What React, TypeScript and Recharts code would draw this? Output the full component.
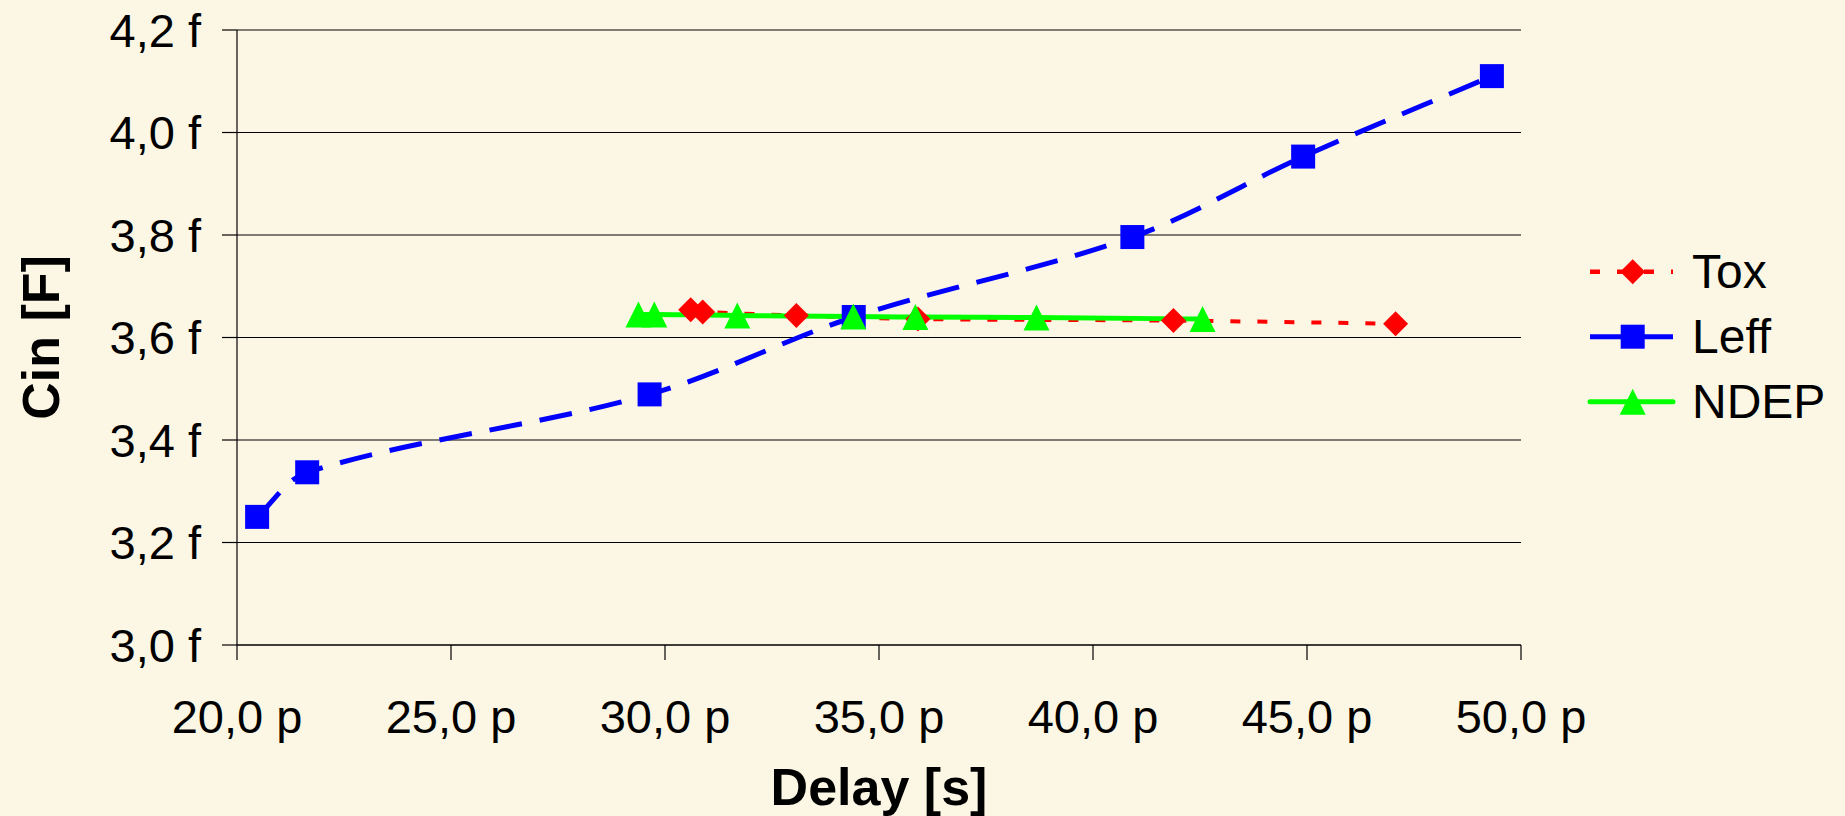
import React from 'react';
import { LineChart, Line, XAxis, YAxis, CartesianGrid, Legend, Label } from 'recharts';

// ---- data ----
const xTicks = [20, 25, 30, 35, 40, 45, 50];
const yTicks = [3.0, 3.2, 3.4, 3.6, 3.8, 4.0, 4.2];

const toxDelay = [30.6, 30.88, 33.07, 35.91, 41.88, 47.07];
const toxCin = [3.654, 3.65, 3.643, 3.636, 3.633, 3.627];

const leffDelay = [20.47, 21.64, 29.64, 34.41, 40.92, 44.91, 49.32];
const leffCin = [3.25, 3.337, 3.489, 3.64, 3.796, 3.953, 4.11];

const ndepDelay = [29.38, 29.75, 31.69, 34.4, 35.85, 38.68, 42.56];
const ndepCin = [3.645, 3.645, 3.643, 3.641, 3.64, 3.639, 3.636];

const seriesNames = ['Tox', 'Leff', 'NDEP'];
const seriesColors = ['#FF0000', '#0000FF', '#00FF00'];
const seriesMarkers = ['diamond', 'square', 'triangle'];

const toxData = toxDelay.map((x, i) => ({ x, y: toxCin[i] }));
const leffData = leffDelay.map((x, i) => ({ x, y: leffCin[i] }));
const ndepData = ndepDelay.map((x, i) => ({ x, y: ndepCin[i] }));

const FONT = '"Liberation Sans", Arial, sans-serif';
const BG = '#FCF7E4';

const fmtX = (v: number) => v.toFixed(1).replace('.', ',') + ' p';
const fmtY = (v: number) => v.toFixed(1).replace('.', ',') + ' f';

const dist = (a: [number, number], b: [number, number]) => Math.hypot(b[0] - a[0], b[1] - a[1]);

// Spreadsheet-style smoothed line (length-weighted Bezier), used as a curve factory
function smoothCurve(context: any) {
  let pts: [number, number][] = [];
  return {
    areaStart() {},
    areaEnd() {},
    lineStart() {
      pts = [];
    },
    lineEnd() {
      const n = pts.length;
      if (!n) return;
      context.moveTo(pts[0][0], pts[0][1]);
      if (n === 1) return;
      for (let i = 0; i < n - 1; i++) {
        const p0 = pts[i === 0 ? 0 : i - 1];
        const p1 = pts[i];
        const p2 = pts[i + 1];
        const p3 = pts[i + 2 < n ? i + 2 : n - 1];
        const d01 = dist(p0, p1);
        const d12 = dist(p1, p2);
        const d23 = dist(p2, p3);
        const k1 = d12 / (3 * (d01 + d12 || 1));
        const k2 = d12 / (3 * (d12 + d23 || 1));
        const c1x = p1[0] + (p2[0] - p0[0]) * k1;
        const c1y = p1[1] + (p2[1] - p0[1]) * k1;
        const c2x = p2[0] - (p3[0] - p1[0]) * k2;
        const c2y = p2[1] - (p3[1] - p1[1]) * k2;
        context.bezierCurveTo(c1x, c1y, c2x, c2y, p2[0], p2[1]);
      }
    },
    point(x: number, y: number) {
      pts.push([+x, +y]);
    },
  };
}

function Marker({ type, cx, cy, color }: { type: string; cx: number; cy: number; color: string }) {
  if (type === 'square') {
    return <rect x={cx - 12} y={cy - 12} width={24} height={24} fill={color} />;
  }
  if (type === 'diamond') {
    const r = 12.5;
    return <polygon points={`${cx},${cy - r} ${cx + r},${cy} ${cx},${cy + r} ${cx - r},${cy}`} fill={color} />;
  }
  const h = 13;
  return <polygon points={`${cx},${cy - h} ${cx + h},${cy + h} ${cx - h},${cy + h}`} fill={color} />;
}

const makeDot = (idx: number) => (p: any) => {
  if (p.cx == null || p.cy == null) return <g key={`d-${idx}-${p.index}`} />;
  return (
    <Marker
      key={`d-${idx}-${p.index}`}
      type={seriesMarkers[idx]}
      cx={p.cx}
      cy={p.cy}
      color={seriesColors[idx]}
    />
  );
};

const XTitle = (props: any) => {
  const vb = props.viewBox || {};
  return (
    <text
      x={vb.x + vb.width / 2}
      y={vb.y + 160}
      textAnchor="middle"
      fontSize={52}
      fontWeight="bold"
      fontFamily={FONT}
      fill="#000"
    >
      Delay [s]
    </text>
  );
};

const YTitle = (props: any) => {
  const vb = props.viewBox || {};
  const x = vb.x + 59;
  const y = vb.y + vb.height / 2;
  return (
    <text
      x={x}
      y={y}
      transform={`rotate(-90, ${x}, ${y})`}
      textAnchor="middle"
      fontSize={52}
      fontWeight="bold"
      fontFamily={FONT}
      fill="#000"
    >
      Cin [F]
    </text>
  );
};

const legendDash = ['10 17', undefined, undefined];
const legendWidth = [4.5, 5, 5];
const legendCap = ['butt', 'butt', 'round'];

const LegendContent = () => (
  <svg width={265} height={200} style={{ display: 'block' }}>
    {seriesNames.map((name, i) => {
      const cy = 36.7 + i * 65;
      return (
        <g key={name}>
          <line
            x1={10}
            x2={93}
            y1={cy}
            y2={cy}
            stroke={seriesColors[i]}
            strokeWidth={legendWidth[i]}
            strokeDasharray={legendDash[i]}
            strokeLinecap={legendCap[i] as any}
          />
          <Marker type={seriesMarkers[i]} cx={52.7} cy={cy} color={seriesColors[i]} />
          <text x={112} y={cy + 16.5} fontSize={48} fontFamily={FONT} fill="#000">
            {name}
          </text>
        </g>
      );
    })}
  </svg>
);

export default function App() {
  return (
    <div style={{ position: 'absolute', left: 0, top: 0, width: 1845, height: 816, background: BG }}>
      <LineChart
        width={1845}
        height={816}
        margin={{ top: 30, right: 324, bottom: 0, left: 0 }}
        style={{ fontFamily: FONT }}
      >
        <CartesianGrid vertical={false} stroke="#000" strokeWidth={1.2} />
        <XAxis
          type="number"
          dataKey="x"
          domain={[20, 50]}
          ticks={xTicks}
          interval={0}
          allowDataOverflow
          height={171}
          tickSize={15}
          tickMargin={40}
          tickFormatter={fmtX}
          axisLine={{ stroke: '#000', strokeWidth: 1.2 }}
          tickLine={{ stroke: '#000', strokeWidth: 1.2 }}
          tick={{ fill: '#000', fontSize: 47, fontFamily: FONT }}
        >
          <Label content={<XTitle />} />
        </XAxis>
        <YAxis
          type="number"
          dataKey="y"
          domain={[3.0, 4.2]}
          ticks={yTicks}
          interval={0}
          allowDataOverflow
          width={237}
          tickSize={15}
          tickMargin={21}
          tickFormatter={fmtY}
          axisLine={{ stroke: '#000', strokeWidth: 1.2 }}
          tickLine={{ stroke: '#000', strokeWidth: 1.2 }}
          tick={{ fill: '#000', fontSize: 47, fontFamily: FONT }}
        >
          <Label content={<YTitle />} />
        </YAxis>
        <Legend
          layout="vertical"
          align="center"
          verticalAlign="middle"
          content={<LegendContent />}
          wrapperStyle={{ left: 1580, top: 235, width: 265, height: 200 }}
        />
        <Line
          data={toxData}
          dataKey="y"
          name="Tox"
          type={smoothCurve as any}
          stroke="#FF0000"
          strokeWidth={4}
          strokeDasharray="10 17"
          dot={makeDot(0)}
          activeDot={false}
          isAnimationActive={false}
        />
        <Line
          data={leffData}
          dataKey="y"
          name="Leff"
          type={smoothCurve as any}
          stroke="#0000FF"
          strokeWidth={5}
          strokeDasharray="33 18"
          dot={makeDot(1)}
          activeDot={false}
          isAnimationActive={false}
        />
        <Line
          data={ndepData}
          dataKey="y"
          name="NDEP"
          type={smoothCurve as any}
          stroke="#00FF00"
          strokeWidth={5}
          dot={makeDot(2)}
          activeDot={false}
          isAnimationActive={false}
        />
      </LineChart>
    </div>
  );
}
